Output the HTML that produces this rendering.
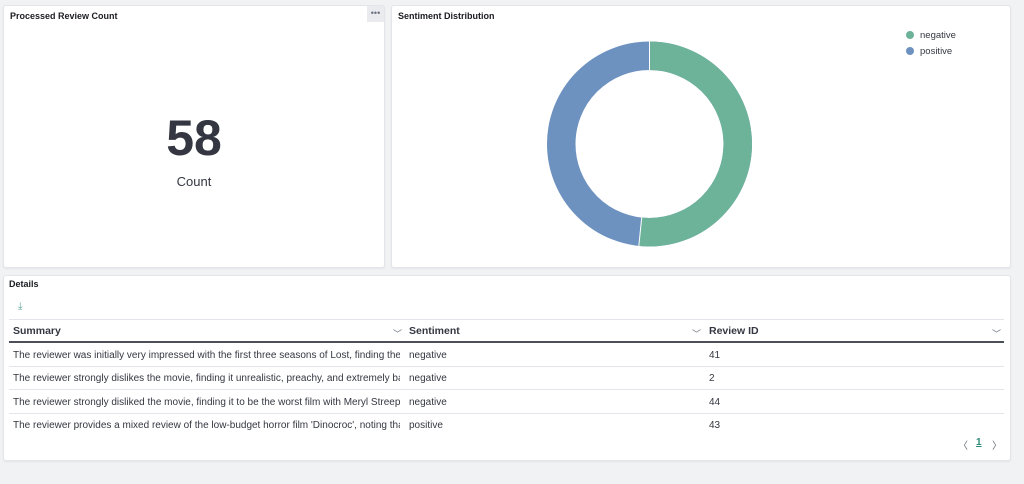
<!DOCTYPE html>
<html><head><meta charset="utf-8"><style>
*{box-sizing:border-box;margin:0;padding:0}
body{width:1024px;height:484px;background:#f1f2f4;font-family:"Liberation Sans",sans-serif;position:relative;overflow:hidden;color:#343741}
.p{position:absolute;background:#fff;border:1px solid #e3e5ea;border-radius:3px;box-shadow:0 1px 2px rgba(0,0,0,.06)}
.t{position:absolute;left:6px;top:5px;font-size:9px;font-weight:bold;color:#1a1c21}
.h{font-weight:bold;font-size:10.5px;color:#343741}
.ln{position:absolute;left:9px;width:995px;height:1px;background:#e3e5ea}
.chev{position:absolute;font-size:9px;color:#69707d}
</style></head><body>
<div class="p" style="left:3px;top:5px;width:382px;height:263px">
<div class="t">Processed Review Count</div>
<div style="position:absolute;right:0;top:0;width:17px;height:16px;background:#e9ebef;font-size:9px;color:#69707d;text-align:center;line-height:14px">•••</div>
<div style="position:absolute;left:0;width:100%;top:102px;text-align:center;font-size:50px;font-weight:bold;color:#343741;line-height:60px">58</div>
<div style="position:absolute;left:0;width:100%;top:168px;text-align:center;font-size:13px;color:#343741">Count</div>
</div>
<div class="p" style="left:391px;top:5px;width:620px;height:263px">
<div class="t">Sentiment Distribution</div>
<div style="position:absolute;left:514px;top:22px;font-size:9.5px;line-height:16px;color:#343741">
<div><span style="display:inline-block;width:8px;height:8px;border-radius:50%;background:#6db39a;margin-right:6px;vertical-align:-1px"></span>negative</div>
<div><span style="display:inline-block;width:8px;height:8px;border-radius:50%;background:#6d92c0;margin-right:6px;vertical-align:-1px"></span>positive</div>
</div>
</div>
<svg style="position:absolute;left:0;top:0" width="1024" height="484">
<circle cx="649.5" cy="144" r="88.25" fill="none" stroke="#6d92c0" stroke-width="28.5"/>
<circle cx="649.5" cy="144" r="88.25" fill="none" stroke="#6db39a" stroke-width="28.5" stroke-dasharray="286.5 1000" transform="rotate(-90 649.5 144)"/>
<line x1="649.5" y1="41" x2="649.5" y2="70" stroke="#fff" stroke-width="1"/>
<line x1="641.7" y1="217.6" x2="638.8" y2="246" stroke="#fff" stroke-width="1"/>
</svg>
<div class="p" style="left:3px;top:275px;width:1008px;height:186px"></div>
<div class="t" style="left:9px;top:279px">Details</div>
<div style="position:absolute;left:18px;top:301px;font-size:10px;color:#54a293">⤓</div>
<div class="ln" style="top:319px"></div>
<div class="h" style="position:absolute;left:13px;top:325px">Summary</div>
<div class="h" style="position:absolute;left:409px;top:325px">Sentiment</div>
<div class="h" style="position:absolute;left:709px;top:325px">Review ID</div>
<div class="chev" style="left:393px;top:327px">﹀</div>
<div class="chev" style="left:692px;top:327px">﹀</div>
<div class="chev" style="left:992px;top:327px">﹀</div>
<div style="position:absolute;left:9px;width:995px;top:341px;height:2px;background:#4a4f59"></div>
<div class="ln" style="top:366px"></div>
<div class="ln" style="top:389px"></div>
<div class="ln" style="top:413px"></div>
<div style="position:absolute;left:13px;top:344px;font-size:10px;line-height:23.3px;color:#343741;width:387px;white-space:nowrap;overflow:hidden">
The reviewer was initially very impressed with the first three seasons of Lost, finding the<br>
The reviewer strongly dislikes the movie, finding it unrealistic, preachy, and extremely bad<br>
The reviewer strongly disliked the movie, finding it to be the worst film with Meryl Streep<br>
The reviewer provides a mixed review of the low-budget horror film 'Dinocroc', noting that</div>
<div style="position:absolute;left:409px;top:344px;font-size:10px;line-height:23.3px">negative<br>negative<br>negative<br>positive</div>
<div style="position:absolute;left:709px;top:344px;font-size:10px;line-height:23.3px">41<br>2<br>44<br>43</div>
<div style="position:absolute;left:958px;top:437px;font-size:10px;color:#69707d">〈</div>
<div style="position:absolute;left:976px;top:437px;font-size:10px;font-weight:bold;color:#2f8a7b;text-decoration:underline">1</div>
<div style="position:absolute;left:992px;top:437px;font-size:10px;color:#69707d">〉</div>
</body></html>
